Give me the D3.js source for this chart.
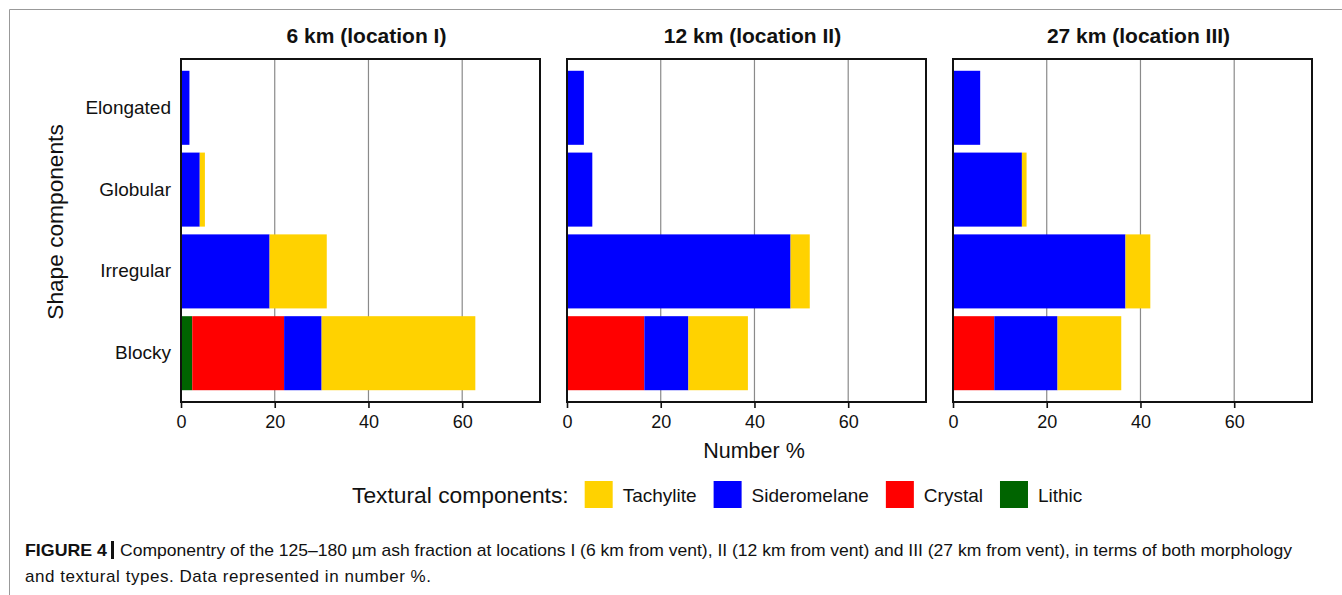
<!DOCTYPE html>
<html>
<head>
<meta charset="utf-8">
<script src="https://cdn.jsdelivr.net/npm/d3@7"></script>
<style>
  body { margin: 0; background: #fff; }
  text { font-family: "Liberation Sans", Arial, sans-serif; fill: #111; }
</style>
</head>
<body>
<svg id="chart" width="1342" height="595"></svg>
<script>
'use strict';

// shape classes, top to bottom
var categories = ["Elongated", "Globular", "Irregular", "Blocky"];
var panelTitles = ["6 km (location I)", "12 km (location II)", "27 km (location III)"];
var xTicks = [0, 20, 40, 60];

// number % per location (I, II, III), per shape class
var lithic = [
  [0, 0, 0, 2.4],
  [0, 0, 0, 0],
  [0, 0, 0, 0]
];
var crystal = [
  [0, 0, 0, 19.6],
  [0, 0, 0, 16.5],
  [0, 0, 0, 8.8]
];
var sideromelane = [
  [1.8, 4.0, 18.9, 8.0],
  [3.6, 5.4, 47.7, 9.4],
  [5.8, 14.7, 36.8, 13.5]
];
var tachylite = [
  [0, 1.1, 12.2, 32.8],
  [0, 0, 4.1, 12.7],
  [0, 1.0, 5.3, 13.6]
];

var stackKeys = ["Lithic", "Crystal", "Sideromelane", "Tachylite"];
var legendKeys = ["Tachylite", "Sideromelane", "Crystal", "Lithic"];
var colors = {
  Tachylite: "#ffd200",
  Sideromelane: "#0000ff",
  Crystal: "#ff0000",
  Lithic: "#006400"
};

(function() {
  var svg = d3.select("#chart");

  // figure frame (left + top rule)
  svg.append("path")
    .attr("d", "M9.5,595V9.5H1342")
    .attr("fill", "none")
    .attr("stroke", "#999")
    .attr("stroke-width", 1);

  var panelLeft = [181, 567, 953],
    panelWidth = 359,
    plotTop = 59,
    plotBottom = 402;

  var y = d3.scaleBand()
    .domain(categories)
    .range([plotTop, plotBottom])
    .paddingInner(0.095)
    .paddingOuter(0.144);

  var stack = d3.stack().keys(stackKeys);

  panelLeft.forEach(function(left, p) {
    var x = d3.scaleLinear().domain([0, 76.6]).range([left, left + panelWidth]);

    var rows = categories.map(function(c, i) {
      return {
        cat: c,
        Lithic: lithic[p][i],
        Crystal: crystal[p][i],
        Sideromelane: sideromelane[p][i],
        Tachylite: tachylite[p][i]
      };
    });
    var series = stack(rows);

    var g = svg.append("g").attr("class", "panel");

    // grid
    g.selectAll(".grid")
      .data(xTicks.filter(function(t) { return t > 0; }))
      .enter().append("line")
      .attr("x1", function(d) { return x(d); })
      .attr("x2", function(d) { return x(d); })
      .attr("y1", plotTop)
      .attr("y2", plotBottom)
      .attr("stroke", "#8a8a8a")
      .attr("stroke-width", 1.2);

    g.selectAll(".layer")
      .data(series)
      .enter().append("g")
      .attr("fill", function(d) { return colors[d.key]; })
      .selectAll("rect")
      .data(function(d) { return d; })
      .enter().append("rect")
      .attr("x", function(d) { return x(d[0]); })
      .attr("width", function(d) { return x(d[1]) - x(d[0]); })
      .attr("y", function(d) { return y(d.data.cat); })
      .attr("height", y.bandwidth());

    // frame
    g.append("rect")
      .attr("x", left)
      .attr("y", plotTop)
      .attr("width", panelWidth)
      .attr("height", plotBottom - plotTop)
      .attr("fill", "none")
      .attr("stroke", "#111")
      .attr("stroke-width", 2);

    var xAxis = g.append("g")
      .attr("transform", "translate(0," + plotBottom + ")")
      .call(d3.axisBottom(x).tickValues(xTicks).tickSize(6).tickPadding(7));
    xAxis.select(".domain").remove();
    xAxis.selectAll(".tick line").attr("stroke", "#111").attr("stroke-width", 1.6);
    xAxis.selectAll("text")
      .style("font-family", "Liberation Sans, Arial, sans-serif")
      .style("font-size", "18px")
      .attr("fill", "#111");

    svg.append("text")
      .attr("x", left + panelWidth / 2 + 6)
      .attr("y", 43)
      .attr("text-anchor", "middle")
      .style("font-size", "21px")
      .style("font-weight", "bold")
      .text(panelTitles[p]);

    if (p === 0) {
      var yAxis = g.append("g")
        .attr("transform", "translate(" + left + ",0)")
        .call(d3.axisLeft(y).tickSize(0).tickPadding(10));
      yAxis.select(".domain").remove();
      yAxis.selectAll("text")
        .style("font-family", "Liberation Sans, Arial, sans-serif")
        .style("font-size", "19px")
        .attr("fill", "#111");
    }
  });

  svg.append("text")
    .attr("transform", "translate(63,222) rotate(-90)")
    .attr("text-anchor", "middle")
    .style("font-size", "22.7px")
    .text("Shape components");

  svg.append("text")
    .attr("x", 754)
    .attr("y", 458)
    .attr("text-anchor", "middle")
    .style("font-size", "21.5px")
    .text("Number %");

  // legend
  var legend = svg.append("g").attr("transform", "translate(352,495)");
  var lx = 0;
  var lt = legend.append("text")
    .attr("x", lx)
    .attr("dy", "0.35em")
    .style("font-size", "22.8px")
    .text("Textural components:");
  lx += lt.node().getComputedTextLength() + 16;

  legendKeys.forEach(function(k) {
    legend.append("rect")
      .attr("x", lx)
      .attr("y", -14)
      .attr("width", 28)
      .attr("height", 27)
      .attr("fill", colors[k]);
    lx += 38;
    var t = legend.append("text")
      .attr("x", lx)
      .attr("dy", "0.35em")
      .style("font-size", "19px")
      .text(k);
    lx += t.node().getComputedTextLength() + 17;
  });

  // caption
  svg.append("text")
    .attr("x", 25)
    .attr("y", 556)
    .style("font-size", "17px")
    .style("font-weight", "bold")
    .attr("textLength", 82)
    .attr("lengthAdjust", "spacingAndGlyphs")
    .text("FIGURE 4");
  svg.append("rect")
    .attr("x", 111)
    .attr("y", 541)
    .attr("width", 3)
    .attr("height", 18)
    .attr("fill", "#111");
  svg.append("text")
    .attr("x", 120)
    .attr("y", 556)
    .style("font-size", "17px")
    .attr("textLength", 1172)
    .attr("lengthAdjust", "spacingAndGlyphs")
    .text("Componentry of the 125\u2013180 \u00b5m ash fraction at locations I (6 km from vent), II (12 km from vent) and III (27 km from vent), in terms of both morphology");
  svg.append("text")
    .attr("x", 25)
    .attr("y", 582)
    .style("font-size", "17px")
    .attr("textLength", 406)
    .attr("lengthAdjust", "spacing")
    .text("and textural types. Data represented in number %.");
})();
</script>
</body>
</html>
